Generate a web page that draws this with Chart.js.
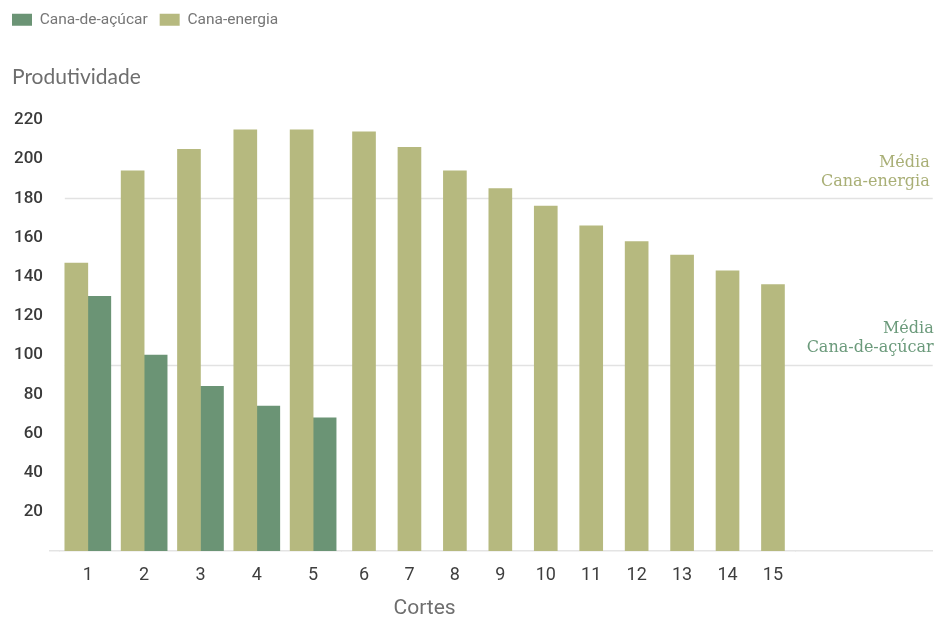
<!DOCTYPE html>
<html lang="pt">
<head>
<meta charset="utf-8">
<script src="https://cdn.jsdelivr.net/npm/chart.js@4.4.1/dist/chart.umd.min.js"></script>
<style>
  html, body { margin: 0; padding: 0; background: #ffffff; }
  #wrap { position: relative; width: 937px; height: 619px; }
</style>
</head>
<body>
<div id="wrap"><canvas id="grafico" width="937" height="619"></canvas></div>
<script>
// Cortes (harvest cycles) and productivity of each cane type
const cortes = ['1', '2', '3', '4', '5', '6', '7', '8', '9', '10', '11', '12', '13', '14', '15'];
const canaEnergia = [147, 194, 205, 215, 215, 214, 206, 194, 185, 176, 166, 158, 151, 143, 136];
const canaAcucar = [130, 100, 84, 74, 68];
const nomesSeries = ['Cana-energia', 'Cana-de-açúcar'];

// Reference averages drawn as horizontal lines
const mediaValores = [180, 95];
const mediaRotulos = [['Média', 'Cana-energia'], ['Média', 'Cana-de-açúcar']];

const corEnergia = '#b6b97f';
const corAcucar = '#6b9475';
const corMediaTexto = ['#a9af76', '#6b9a7b'];

// cortes with both cane types get a wider slot than the energy-cane-only ones
const nDuplo = canaAcucar.length;
const cortesDuplos = cortes.slice(0, nDuplo);
const cortesSimples = cortes.slice(nDuplo);

// dataset order: single energy bars (x2), then the energy / sugar pairs (x1)
const DS_SIMPLES = 0, DS_ENERGIA = 1, DS_ACUCAR = 2;

const fonte = "Roboto, 'Liberation Sans', sans-serif";
const corEixo = '#e4e4e4';

const anotacoes = {
  id: 'anotacoes',
  beforeDatasetsDraw(chart) {
    const { ctx, chartArea, scales: { y } } = chart;
    const primeira = chart.getDatasetMeta(DS_ENERGIA).data[0];
    const x0 = primeira.x - primeira.width / 2;
    ctx.save();
    ctx.strokeStyle = '#e2e2e2';
    ctx.lineWidth = 1.5;
    mediaValores.forEach(v => {
      const py = Math.round(y.getPixelForValue(v)) + 0.5;
      ctx.beginPath();
      ctx.moveTo(x0, py);
      ctx.lineTo(chartArea.right, py);
      ctx.stroke();
    });
    ctx.restore();
  },
  afterDraw(chart) {
    const { ctx, chartArea, scales: { y } } = chart;
    ctx.save();
    // average labels, right aligned above their lines
    ctx.font = "16px 'DejaVu Serif', serif";
    ctx.textAlign = 'right';
    ctx.textBaseline = 'middle';
    const margemDireita = [3, -1];
    mediaValores.forEach((v, i) => {
      const py = y.getPixelForValue(v);
      const xr = chartArea.right - margemDireita[i];
      ctx.fillStyle = corMediaTexto[i];
      ctx.fillText(mediaRotulos[i][0], xr, py - 36);
      ctx.fillText(mediaRotulos[i][1], xr, py - 17);
    });
    // axis names
    ctx.fillStyle = '#6e6e6e';
    ctx.textAlign = 'left';
    ctx.font = "21px Lato, sans-serif";
    ctx.fillText('Produtividade', 12, 77);
    const metaPrim = chart.getDatasetMeta(DS_ENERGIA).data[0];
    const metaUlt = chart.getDatasetMeta(DS_SIMPLES).data[cortesSimples.length - 1];
    const cx = ((metaPrim.x - metaPrim.width / 2) + (metaUlt.x + metaUlt.width / 2)) / 2;
    ctx.textAlign = 'center';
    ctx.font = "21px " + fonte;
    ctx.fillText('Cortes', cx, 609);
    ctx.restore();
  }
};

const eixoX = (labels, peso, comTicks) => ({
  type: 'category',
  labels: labels,
  position: 'bottom',
  stack: 'cortes',
  stackWeight: peso,
  offset: true,
  grid: { display: false },
  border: { display: true, color: corEixo, width: 1.5 },
  ticks: {
    display: comTicks,
    padding: 6,
    color: '#3e3e3e',
    font: { family: fonte, size: 18 },
    maxRotation: 0,
    autoSkip: false
  },
  afterFit: comTicks ? (s => { s.height = 68; }) : undefined
});

new Chart(document.getElementById('grafico'), {
  type: 'bar',
  data: {
    datasets: [
      { label: nomesSeries[0], data: canaEnergia.slice(nDuplo), xAxisID: 'x2', yAxisID: 'y',
        backgroundColor: corEnergia, barThickness: 23, grouped: false },
      { label: nomesSeries[0], data: canaEnergia.slice(0, nDuplo), xAxisID: 'x1', yAxisID: 'y',
        backgroundColor: corEnergia, barThickness: 23, stack: 'energia' },
      { label: nomesSeries[1], data: canaAcucar, xAxisID: 'x1', yAxisID: 'y',
        backgroundColor: corAcucar, barThickness: 23, stack: 'acucar' }
    ]
  },
  options: {
    responsive: false,
    animation: false,
    layout: { padding: 0 },
    plugins: {
      tooltip: { enabled: false },
      title: { display: false },
      legend: {
        display: true,
        position: 'top',
        align: 'start',
        labels: {
          boxWidth: 20,
          boxHeight: 12,
          padding: 12,
          color: '#767676',
          font: { family: fonte, size: 15.5 },
          filter: item => item.datasetIndex !== DS_ENERGIA,
          sort: (a, b) => b.datasetIndex - a.datasetIndex
        }
      }
    },
    scales: {
      topo: {
        type: 'category',
        labels: [''],
        position: 'top',
        grid: { display: false },
        border: { display: false },
        ticks: { display: false },
        afterFit: s => { s.height = 120 - (s.chart.legend ? s.chart.legend.height : 0); }
      },
      y: {
        type: 'linear',
        position: 'left',
        min: 0,
        max: 220,
        grid: { display: false, drawTicks: false, tickLength: 0 },
        border: { display: false },
        ticks: {
          stepSize: 20,
          padding: 7,
          color: '#3a3a3a',
          font: { family: 'Roboto', size: 17, weight: '500' },
          callback: v => (v === 0 ? null : v)
        },
        afterFit: s => { s.width = 50; }
      },
      margemEsq: eixoX([''], 9.7, false),
      x1: eixoX(cortesDuplos, 283, true),
      x2: eixoX(cortesSimples, 456.6, true),
      margemDir: eixoX([''], 137.7, false)
    }
  },
  plugins: [anotacoes]
});
</script>
</body>
</html>
